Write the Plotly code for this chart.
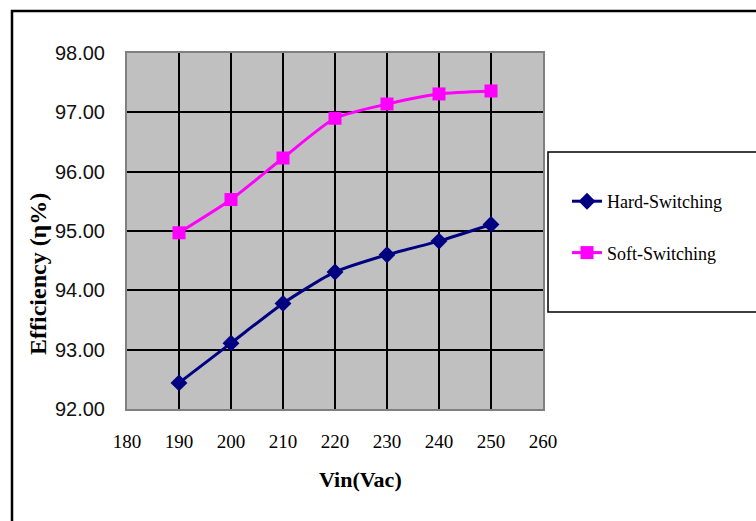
import plotly.graph_objects as go

vin = [190, 200, 210, 220, 230, 240, 250]
hard = [92.44, 93.11, 93.78, 94.31, 94.60, 94.83, 95.11]
soft = [94.97, 95.53, 96.23, 96.90, 97.14, 97.31, 97.36]
x_ticks = [180, 190, 200, 210, 220, 230, 240, 250, 260]
y_ticks = [92, 93, 94, 95, 96, 97, 98]

W, H = 756, 521
L, R, T, B = 127, 543, 53, 409
pw, ph = R - L, B - T

def px_x(p):
    return (p - L) / pw

def px_y(p):
    return (B - p) / ph

fig = go.Figure()
fig.add_trace(go.Scatter(
    x=vin, y=hard, name="Hard-Switching", mode="lines+markers",
    line=dict(color="#000080", width=3, shape="spline", smoothing=0.6),
    marker=dict(symbol="diamond", size=13, color="#000080"),
    legendgroup="a",
))
fig.add_trace(go.Scatter(
    x=vin, y=soft, name="Soft-Switching", mode="lines+markers",
    line=dict(color="#FF00FF", width=3, shape="spline", smoothing=0.6),
    marker=dict(symbol="square", size=13, color="#FF00FF"),
    legendgroup="b",
))

serif = "Liberation Serif, Times New Roman, serif"
sans = "Liberation Sans, Arial, sans-serif"

fig.update_layout(
    width=W, height=H,
    margin=dict(l=L, r=W - R, t=T, b=H - B, pad=0),
    paper_bgcolor="white",
    plot_bgcolor="#C0C0C0",
    showlegend=True,
    legend=dict(
        x=px_x(567), y=px_y(183), xanchor="left", yanchor="top",
        bgcolor="rgba(0,0,0,0)", borderwidth=0,
        font=dict(family=serif, size=18, color="black"),
        tracegroupgap=25, traceorder="grouped",
    ),
    xaxis=dict(
        range=[180, 260], tickvals=x_ticks, ticktext=[str(v) for v in x_ticks],
        showgrid=True, gridcolor="black", gridwidth=2,
        showline=True, mirror=True, linecolor="#808080", linewidth=2,
        ticks="", zeroline=False,
        tickfont=dict(family=serif, size=19, color="black"),
        ticklabelstandoff=14,
    ),
    yaxis=dict(
        range=[92, 98], tickvals=y_ticks, tickformat=".2f",
        showgrid=True, gridcolor="black", gridwidth=2,
        showline=True, mirror=True, linecolor="#808080", linewidth=2,
        ticks="", zeroline=False,
        tickfont=dict(family=sans, size=20, color="#111111"),
        ticklabelstandoff=16,
    ),
    shapes=[
        dict(type="rect", xref="paper", yref="paper",
             x0=px_x(12), x1=px_x(770), y0=px_y(11), y1=px_y(540),
             line=dict(color="black", width=2.5), layer="above"),
        dict(type="rect", xref="paper", yref="paper",
             x0=px_x(548), x1=px_x(770), y0=px_y(152), y1=px_y(312),
             line=dict(color="black", width=1.5), layer="above"),
    ],
    annotations=[
        dict(text="<b>Vin(Vac)</b>", xref="paper", yref="paper",
             x=px_x(360), y=px_y(479), xanchor="center", yanchor="middle",
             showarrow=False, font=dict(family=serif, size=22, color="black")),
        dict(text="<b>Efficiency (η%)</b>", xref="paper", yref="paper",
             x=px_x(38), y=px_y(274), xanchor="center", yanchor="middle",
             textangle=-90, showarrow=False,
             font=dict(family=serif, size=24, color="black")),
    ],
)

fig.write_html("out.html")
